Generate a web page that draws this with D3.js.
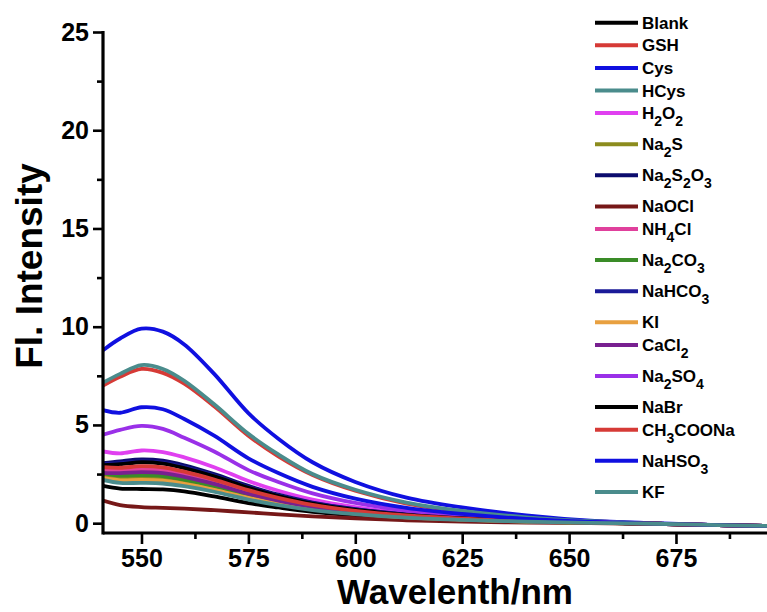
<!DOCTYPE html>
<html>
<head>
<meta charset="utf-8">
<script src="https://cdn.jsdelivr.net/npm/d3@7"></script>
<style>
  html, body { margin: 0; padding: 0; background: #fff; }
  svg { display: block; }
  text { font-family: "Liberation Sans", Arial, sans-serif; font-weight: bold; fill: #000; }
</style>
</head>
<body>
<svg id="chart" width="767" height="612"></svg>
<script>
// ---------- data ----------
const wavelengths = [541, 545, 550, 555, 560, 567, 575, 582, 590, 600, 612, 625, 640, 655, 670, 685, 700];

const seriesNames = ["Blank", "GSH", "Cys", "HCys", "H_2O_2", "Na_2S", "Na_2S_2O_3", "NaOCl", "NH_4Cl",
  "Na_2CO_3", "NaHCO_3", "KI", "CaCl_2", "Na_2SO_4", "NaBr", "CH_3COONa", "NaHSO_3", "KF"];

const seriesColors = ["#000000", "#d63a36", "#1010e0", "#4a8c8c", "#e040f0", "#8c8c1e", "#0c0c6e", "#761818", "#e0409c",
  "#3a8c28", "#1a1a98", "#e8a040", "#782090", "#9a30e8", "#000000", "#d63a36", "#1010e0", "#4a8c8c"];

const blank     = [1.90, 1.76, 1.74, 1.72, 1.62, 1.36, 1.02, 0.80, 0.58, 0.40, 0.25, 0.15, 0.07, 0.02, -0.03, -0.10, -0.15];
const gsh       = [7.00, 7.45, 7.85, 7.65, 7.10, 5.95, 4.45, 3.40, 2.45, 1.65, 1.00, 0.60, 0.30, 0.10, -0.02, -0.10, -0.15];
const cys       = [8.80, 9.40, 9.90, 9.75, 9.10, 7.60, 5.60, 4.30, 3.10, 2.10, 1.30, 0.80, 0.40, 0.13, 0.00, -0.10, -0.15];
const hcys      = [7.15, 7.60, 8.05, 7.85, 7.25, 6.05, 4.55, 3.50, 2.50, 1.70, 1.05, 0.62, 0.30, 0.10, -0.02, -0.10, -0.15];
const h2o2      = [3.65, 3.55, 3.70, 3.62, 3.35, 2.85, 2.15, 1.65, 1.20, 0.82, 0.50, 0.30, 0.14, 0.04, -0.03, -0.10, -0.15];
const na2s      = [2.40, 2.28, 2.30, 2.26, 2.10, 1.80, 1.37, 1.05, 0.77, 0.53, 0.33, 0.20, 0.09, 0.03, -0.03, -0.10, -0.15];
const na2s2o3   = [3.05, 3.15, 3.25, 3.18, 2.95, 2.50, 1.90, 1.45, 1.05, 0.72, 0.45, 0.27, 0.12, 0.04, -0.03, -0.10, -0.15];
const naocl     = [1.15, 0.92, 0.82, 0.78, 0.74, 0.66, 0.55, 0.45, 0.35, 0.25, 0.15, 0.08, 0.03, 0.00, -0.04, -0.10, -0.15];
const nh4cl     = [2.70, 2.68, 2.75, 2.70, 2.50, 2.12, 1.60, 1.22, 0.88, 0.60, 0.37, 0.22, 0.10, 0.03, -0.03, -0.10, -0.15];
const na2co3    = [2.55, 2.42, 2.45, 2.40, 2.22, 1.88, 1.42, 1.09, 0.79, 0.54, 0.33, 0.20, 0.09, 0.03, -0.03, -0.10, -0.15];
const nahco3    = [3.00, 3.05, 3.15, 3.08, 2.85, 2.42, 1.83, 1.40, 1.02, 0.70, 0.43, 0.26, 0.12, 0.04, -0.03, -0.10, -0.15];
const ki        = [2.30, 2.18, 2.20, 2.16, 2.00, 1.70, 1.29, 0.99, 0.72, 0.49, 0.30, 0.18, 0.08, 0.02, -0.03, -0.10, -0.15];
const cacl2     = [2.55, 2.55, 2.60, 2.55, 2.36, 2.00, 1.50, 1.15, 0.83, 0.57, 0.35, 0.21, 0.10, 0.03, -0.03, -0.10, -0.15];
const na2so4    = [4.50, 4.75, 4.95, 4.80, 4.35, 3.65, 2.70, 2.10, 1.52, 1.03, 0.64, 0.39, 0.18, 0.06, -0.02, -0.10, -0.15];
const nabr      = [2.95, 3.00, 3.10, 3.03, 2.80, 2.38, 1.80, 1.38, 1.00, 0.68, 0.42, 0.25, 0.11, 0.03, -0.03, -0.10, -0.15];
const ch3coona  = [2.85, 2.82, 2.90, 2.84, 2.62, 2.22, 1.68, 1.29, 0.93, 0.63, 0.39, 0.23, 0.10, 0.03, -0.03, -0.10, -0.15];
const nahso3    = [5.75, 5.62, 5.90, 5.80, 5.30, 4.45, 3.30, 2.55, 1.85, 1.25, 0.78, 0.47, 0.22, 0.07, -0.02, -0.10, -0.15];
const kf        = [2.20, 2.05, 2.05, 2.02, 1.88, 1.60, 1.20, 0.92, 0.67, 0.46, 0.28, 0.17, 0.08, 0.02, -0.03, -0.10, -0.15];

const seriesValues = [blank, gsh, cys, hcys, h2o2, na2s, na2s2o3, naocl, nh4cl,
  na2co3, nahco3, ki, cacl2, na2so4, nabr, ch3coona, nahso3, kf];

const xMajorTicks = [550, 575, 600, 625, 650, 675];
const xMinorTicks = [562.5, 587.5, 612.5, 637.5, 662.5, 687.5];
const yMajorTicks = [0, 5, 10, 15, 20, 25];
const yMinorTicks = [2.5, 7.5, 12.5, 17.5, 22.5];

// ---------- layout ----------
const svg = d3.select("#chart");
const W = 767, H = 612;
const plotLeft = 103, plotBottom = 533, plotTop = 32;

const x = d3.scaleLinear().domain([541, 700]).range([plotLeft, plotLeft + 159 * 4.276]);
const y = d3.scaleLinear().domain([-0.5, 25]).range([plotBottom, plotTop]);

svg.append("defs").append("clipPath").attr("id", "plotclip")
  .append("rect").attr("x", plotLeft).attr("y", 0).attr("width", W - plotLeft).attr("height", plotBottom);

// ---------- curves ----------
const line = d3.line()
  .x((d, i) => x(wavelengths[i]))
  .y(d => y(d))
  .curve(d3.curveCatmullRom.alpha(0.5));

const curves = svg.append("g").attr("clip-path", "url(#plotclip)");
seriesValues.forEach((vals, k) => {
  curves.append("path")
    .attr("d", line(vals))
    .attr("fill", "none")
    .attr("stroke", seriesColors[k])
    .attr("stroke-width", 3.8)
    .attr("stroke-linejoin", "round");
});

// ---------- axes ----------
function styleAxis(g) {
  g.selectAll(".domain").remove();
  g.selectAll(".tick line").attr("stroke", "#000").attr("stroke-width", 2.6);
  g.selectAll(".tick text").style("font-size", "25px").style("font-weight", "bold")
    .style("font-family", '"Liberation Sans", Arial, sans-serif').attr("fill", "#000");
}

const gx = svg.append("g").attr("transform", `translate(0,${plotBottom})`)
  .call(d3.axisBottom(x).tickValues(xMajorTicks).tickSize(11).tickPadding(5).tickFormat(d3.format("d")));
styleAxis(gx);
gx.selectAll(".tick text").attr("dy", "0.71em");

const gxm = svg.append("g").attr("transform", `translate(0,${plotBottom})`)
  .call(d3.axisBottom(x).tickValues(xMinorTicks).tickSize(6).tickFormat(""));
styleAxis(gxm);

const gy = svg.append("g").attr("transform", `translate(${plotLeft},0)`)
  .call(d3.axisLeft(y).tickValues(yMajorTicks).tickSize(10).tickPadding(4).tickFormat(d3.format("d")));
styleAxis(gy);

const gym = svg.append("g").attr("transform", `translate(${plotLeft},0)`)
  .call(d3.axisLeft(y).tickValues(yMinorTicks).tickSize(6).tickFormat(""));
styleAxis(gym);

// axis lines
svg.append("line").attr("x1", plotLeft).attr("x2", W + 5).attr("y1", plotBottom).attr("y2", plotBottom)
  .attr("stroke", "#000").attr("stroke-width", 3.2);
svg.append("line").attr("x1", plotLeft).attr("x2", plotLeft).attr("y1", plotTop - 1).attr("y2", plotBottom + 1.6)
  .attr("stroke", "#000").attr("stroke-width", 3.2);

// axis titles
svg.append("text").attr("x", 455).attr("y", 604).attr("text-anchor", "middle")
  .style("font-size", "35px").text("Wavelenth/nm");
svg.append("text").attr("transform", "translate(42,266) rotate(-90)").attr("text-anchor", "middle")
  .style("font-size", "37px").text("Fl. Intensity");

// ---------- legend ----------
const legend = svg.append("g");
let ly = 22.7;
seriesNames.forEach((name, k) => {
  if (k > 0) {
    ly += 22.6 + (seriesNames[k - 1].includes("_") ? 8.5 : 0);
  }
  legend.append("line").attr("x1", 595).attr("x2", 638).attr("y1", ly).attr("y2", ly)
    .attr("stroke", seriesColors[k]).attr("stroke-width", 4);
  const t = legend.append("text").attr("x", 642).attr("y", ly + 6).style("font-size", "17px");
  const parts = name.split(/(_\d)/).filter(s => s.length);
  let sub = false;
  parts.forEach(p => {
    if (p.startsWith("_")) {
      t.append("tspan").attr("dy", 7).style("font-size", "14px").text(p.slice(1));
      sub = true;
    } else {
      t.append("tspan").attr("dy", sub ? -7 : 0).text(p);
      sub = false;
    }
  });
});
</script>
</body>
</html>
